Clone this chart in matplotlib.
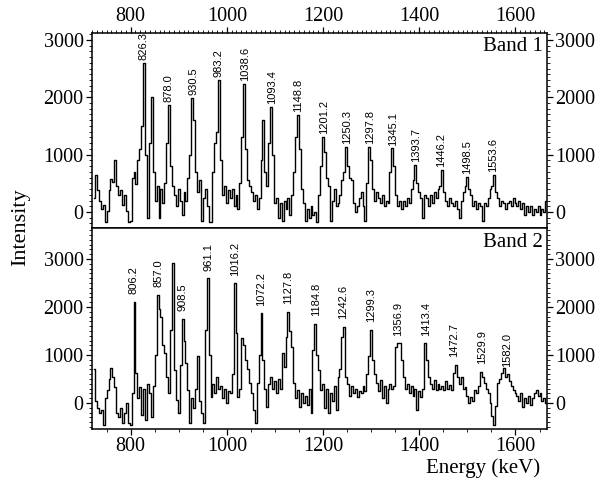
import numpy as np
import matplotlib.pyplot as plt
from matplotlib.ticker import MultipleLocator

# spectra, 4 keV bins starting at 724 keV
bin_start = 724
bin_width = 4

band1 = [
    250, 650, 380, 200, 60, 120, -180, 20, 380, 580,
    520, 900, 450, 300, 380, 120, 300, 20, -180, -150,
    600, 700, 480, 900, 1100, 1500, 2600, 1000, -100, 1200,
    2000, 700, 200, 450, -100, 400, 150, 500, 1200, 1870,
    800, 450, 300, 100, 400, 200, -50, 350, 200, 600,
    1000, 1990, 1600, 700, 350, 550, -150, 250, 400, 100,
    -180, -180, 700, 1200, 1400, 2300, 900, 300, 450, 150,
    380, 250, 400, 100, 300, 50, 500, 1300, 2230, 1100,
    550, 450, 350, 200, 300, 50, 250, 900, 1600, 700,
    450, 1200, 1830, 1000, 150, 250, -100, 150, -150, 200,
    50, 250, -50, 300, 700, 1300, 1690, 1100, 400, 150,
    -150, 50, -100, 100, -50, 0, -180, 300, 800, 1310,
    1050, 600, 450, -150, 200, 400, 100, 150, 300, 550,
    700, 1140, 800, 600, 550, 150, 0, 100, 250, 350,
    100, -150, 500, 1130, 900, 400, 200, 350, 250, 150,
    300, 100, 200, 150, 700, 1110, 800, 300, 100, 200,
    50, 200, 100, 250, 150, 400, 550, 820, 500, 350,
    250, -100, 300, 250, 100, 300, 150, 350, 250, 400,
    450, 730, 350, 200, 100, 250, 150, 100, 200, 50,
    -100, 200, 350, 450, 615, 400, 300, 100, 200, 50,
    150, 100, -150, 150, 100, 250, 400, 450, 650, 350,
    250, 100, 200, 150, 50, 150, 200, 100, 250, 150,
    100, 200, 50, 150, -50, 100, 0, 100, -50, 50,
    0, 100, -50, 50, 0, 200,
]

band2 = [
    700, 50, -100, -200, -150, -460, 100, 270, 500, 720,
    550, 340, -210, -300, -100, -420, -200, 0, -420, -460,
    200, 2110, 620, 100, 340, -250, 300, -350, 400, 200,
    -300, 350, 1000, 2250, 1950, 1800, 1200, 1040, 550, 200,
    1520, 2910, 690, 60, -210, 800, 1760, 1300, 830, 270,
    -420, 100, -100, 300, 970, 50, -200, -420, 1520, 2600,
    1000, 130, 400, 200, 550, 300, 350, 100, 300, 0,
    250, 200, 600, 2490, 1450, 130, 300, 1350, 1200, 900,
    700, 410, 200, -140, -420, 410, 1000, 1870, 900, 300,
    -80, 400, 550, 300, 450, 200, 500, 300, 1040, 760,
    1380, 1900, 1500, 1170, 410, 100, 270, -80, 200, 0,
    150, -50, 300, -210, 1100, 1650, 1000, 690, 270, 400,
    -100, 300, -210, 200, 50, 350, -150, 550, 700, 1380,
    1590, 550, 400, 150, 350, 200, 300, 130, 250, 200,
    350, 250, 600, 970, 1520, 900, 600, 410, 250, 480,
    100, 350, -10, 300, 400, 300, 350, 1170, 1240, 1240,
    900, 550, 300, 400, 200, 350, 150, 300, -140, 250,
    130, 300, 1240, 900, 550, 400, 300, 480, 270, 400,
    300, 350, 270, 450, 300, 380, 270, 620, 790, 550,
    400, 550, 300, 340, 150, 0, 130, 50, 270, 200,
    350, 650, 550, 410, 300, 200, 0, -280, -460, -70,
    410, 500, 620, 720, 550, 600, 450, 350, 270, 200,
    150, 50, 200, -80, 100, 0, 150, -50, 100, 200,
    270, 150, 200, 50, 100, 0,
]

band1_peaks = [826.3, 878.0, 930.5, 983.2, 1038.6, 1093.4, 1148.8, 1201.2,
               1250.3, 1297.8, 1345.1, 1393.7, 1446.2, 1498.5, 1553.6]
band2_peaks = [806.2, 857.0, 908.5, 961.1, 1016.2, 1072.2, 1127.8, 1184.8,
               1242.6, 1299.3, 1356.9, 1413.4, 1472.7, 1529.9, 1582.0]

plt.rcParams['font.family'] = 'Liberation Serif'

fig = plt.figure(figsize=(5.98, 4.79), dpi=100)
ax1 = fig.add_axes([0.1538, 0.524, 0.761, 0.408])
ax2 = fig.add_axes([0.1538, 0.1044, 0.761, 0.4196])


def draw_panel(ax, counts, peaks, name, ylim, label_pad):
    counts = np.array(counts)
    energy = bin_start + bin_width * np.arange(len(counts))
    ax.step(energy, counts, where='mid', color='black', lw=1.0)
    for e in peaks:
        near = np.abs(energy - e) <= 4.5
        top = counts[near].max()
        ax.annotate(f"{e:.1f}", (e, top), xytext=(0, label_pad),
                    textcoords='offset points', rotation=90,
                    ha='center', va='bottom', fontsize=8,
                    family=['Liberation Sans Narrow', 'Liberation Sans'])
    ax.text(0.99, 0.93, name, transform=ax.transAxes, ha='right',
            va='center', fontsize=15)
    ax.set_xlim(719.6, 1665.6)
    ax.set_ylim(*ylim)
    ax.yaxis.set_major_locator(MultipleLocator(1000))
    ax.yaxis.set_minor_locator(MultipleLocator(100))
    ax.xaxis.set_major_locator(MultipleLocator(200))
    ax.tick_params(axis='y', which='both', left=True, right=True,
                   labelleft=True, labelright=True, labelsize=14.5,
                   direction='out', pad=2)
    ax.tick_params(which='major', length=4, width=0.9)
    ax.tick_params(which='minor', length=2, width=0.6)
    for s in ax.spines.values():
        s.set_linewidth(1.1)


draw_panel(ax1, band1, band1_peaks, 'Band 1', (-279, 3127), 2)
draw_panel(ax2, band2, band2_peaks, 'Band 2', (-542, 3646), 5.5)

ax1.xaxis.set_minor_locator(MultipleLocator(10))
ax1.tick_params(axis='x', which='both', top=True, bottom=False,
                labeltop=True, labelbottom=False, labelsize=14.5, pad=1)
ax2.xaxis.set_minor_locator(MultipleLocator(50))
ax2.tick_params(axis='x', which='both', top=False, bottom=True,
                labelsize=14.5, pad=2)

fig.text(0.035, 0.525, 'Intensity', rotation=90, ha='center', va='center',
         fontsize=16)
fig.text(0.808, 0.023, 'Energy (keV)', ha='center', va='center',
         fontsize=15)

fig.savefig('out.png', dpi=100)
